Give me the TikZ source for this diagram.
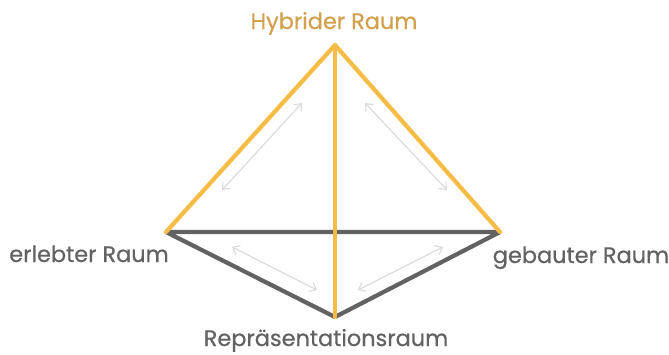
\documentclass[tikz,border=0pt]{standalone}
\usepackage{fontspec}
\setmainfont{Poppins}[FakeBold=0.6]
\usetikzlibrary{arrows.meta}
\definecolor{gold}{HTML}{F6BC45}
\definecolor{goldtext}{HTML}{D3A14E}
\definecolor{darkg}{HTML}{626262}
\definecolor{lightg}{HTML}{D9D9D9}
\tikzset{
  goldline/.style={gold, line width=4.2bp, line cap=round, line join=round},
  grayline/.style={darkg, line width=4.2bp, line cap=round, line join=round},
  relarrow/.style={lightg, line width=1.1bp, {Straight Barb[length=6bp,width=10bp]}-{Straight Barb[length=6bp,width=10bp]}},
  lbl/.style={font=\fontsize{22.5}{26}\selectfont, inner sep=0pt, anchor=base}
}
\begin{document}
\begin{tikzpicture}[x=1bp,y=-1bp]
\useasboundingbox (0,0) rectangle (669,354);
\coordinate (T) at (335,45);
\coordinate (L) at (166,232);
\coordinate (R) at (500,232);
\coordinate (B) at (335,317);
% relation arrows
\coordinate (a1) at (222,190); \coordinate (a2) at (302,103);
\coordinate (b1) at (365,103); \coordinate (b2) at (447,190);
\coordinate (c1) at (232,247); \coordinate (c2) at (317,290);
\coordinate (d1) at (358,290); \coordinate (d2) at (443,247);
\draw[relarrow] (a1) -- (a2);
\draw[relarrow] (b1) -- (b2);
\draw[relarrow] (c1) -- (c2);
\draw[relarrow] (d1) -- (d2);
% triangle
\draw[grayline] (L) -- (B) -- (R) -- cycle;
\draw[goldline] (L) -- (T) -- (R);
\draw[goldline] (T) -- (B);
% labels
\node[lbl, text=goldtext] (ht) at (334,29) {Hybrider Raum};
\node[lbl, text=darkg] (el) at (89,262) {erlebter Raum};
\node[lbl, text=darkg] (gb) at (581,263) {gebauter Raum};
\node[lbl, text=darkg] (rp) at (326,346) {Repräsentationsraum};
\end{tikzpicture}
\end{document}
